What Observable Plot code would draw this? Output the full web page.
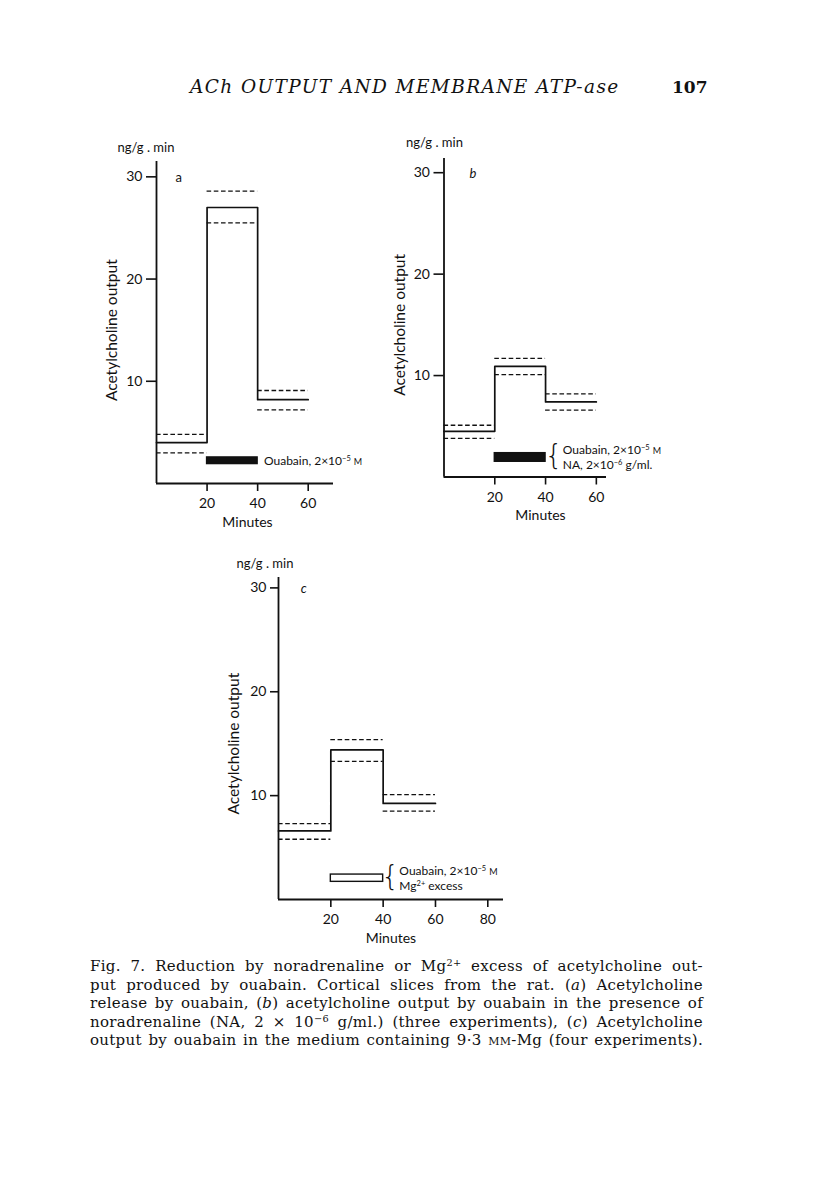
<!DOCTYPE html>
<html><head><meta charset="utf-8">
<script src="https://cdn.jsdelivr.net/npm/d3@7"></script>
<script src="https://cdn.jsdelivr.net/npm/@observablehq/plot@0.6"></script>
<style>
body{margin:0;background:#fff;}
#page{position:relative;width:816px;height:1190px;overflow:hidden;background:#fff;color:#111;}
.hdr{position:absolute;top:77px;font-family:"DejaVu Serif","Liberation Serif",serif;line-height:20px;white-space:nowrap;}
#title{left:190px;font-style:italic;font-size:18.5px;letter-spacing:1.4px;}
#pageno{left:672px;font-weight:bold;font-size:17px;}
.panel{position:absolute;}
#caption{position:absolute;left:90px;top:957px;width:613px;font-family:"DejaVu Serif","Liberation Serif",serif;font-size:15px;letter-spacing:0.3px;line-height:18.5px;}
#caption div{text-align:justify;text-align-last:justify;white-space:nowrap;}
sup{font-size:0.65em;line-height:0;vertical-align:0.5em;}
.sc{font-variant:small-caps;}
</style></head>
<body>
<div id="page">
  <div class="hdr" id="title">ACh OUTPUT AND MEMBRANE ATP-ase</div>
  <div class="hdr" id="pageno">107</div>
  <div class="panel" id="pa"></div>
  <div class="panel" id="pb"></div>
  <div class="panel" id="pc"></div>
  <div id="caption">
    <div>Fig. 7. Reduction by noradrenaline or Mg<sup>2+</sup> excess of acetylcholine out-</div>
    <div>put produced by ouabain. Cortical slices from the rat. (<i>a</i>) Acetylcholine</div>
    <div>release by ouabain, (<i>b</i>) acetylcholine output by ouabain in the presence of</div>
    <div>noradrenaline (NA, 2 × 10<sup>−6</sup> g/ml.) (three experiments), (<i>c</i>) Acetylcholine</div>
    <div>output by ouabain in the medium containing 9·3 <span class="sc">mm</span>-Mg (four experiments).</div>
  </div>
</div>
<script>
// ---- data ----
const periodStart = [0, 20, 40];
const periodEnd = [20, 40, 60];
const meanA = [4.0, 27.0, 8.2];
const upperA = [4.8, 28.6, 9.1];
const lowerA = [3.0, 25.5, 7.2];
const meanB = [4.5, 10.9, 7.4];
const upperB = [5.1, 11.7, 8.2];
const lowerB = [3.8, 10.1, 6.6];
const meanC = [6.6, 14.4, 9.25];
const upperC = [7.3, 15.4, 10.1];
const lowerC = [5.8, 13.3, 8.5];
const yTicks = [10, 20, 30];
const xTicksAB = [20, 40, 60];
const xTicksC = [20, 40, 60, 80];
const drugPeriod = [20, 40];
const barA = [1.9, 2.55];
const barB = [1.5, 2.35];
const barC = [1.7, 2.4];
const legendA = ["Ouabain, 2×10⁻⁵ M"];
const legendB = ["Ouabain, 2×10⁻⁵ M", "NA, 2×10⁻⁶ g/ml."];
const legendC = ["Ouabain, 2×10⁻⁵ M", "Mg²⁺ excess"];
const panelLabels = ["a", "b", "c"];
const yUnit = "ng/g . min";
const yTitle = "Acetylcholine output";
const xTitle = "Minutes";

const FONT = "Lato, 'Open Sans', sans-serif";
const INK = "#111";

function panel(cfg) {
  const segs = periodStart.map((s, i) => ({s, e: periodEnd[i], mean: cfg.mean[i], upper: cfg.upper[i], lower: cfg.lower[i]}));
  const last = segs[segs.length - 1];
  const steps = segs.map(d => ({x: d.s, y: d.mean})).concat([{x: last.e, y: last.mean}]);
  const bar = [{x1: drugPeriod[0], x2: drugPeriod[1], y1: cfg.bar[0], y2: cfg.bar[1]}];
  const barMid = (cfg.bar[0] + cfg.bar[1]) / 2;
  const marks = [
    Plot.ruleY(segs, {x1: "s", x2: "e", y: "upper", strokeDasharray: "4.6,2.6", strokeWidth: 1.3, stroke: INK}),
    Plot.ruleY(segs, {x1: "s", x2: "e", y: "lower", strokeDasharray: "4.6,2.6", strokeWidth: 1.3, stroke: INK}),
    Plot.line(steps, {x: "x", y: "y", curve: "step-after", strokeWidth: 1.7, stroke: INK}),
    Plot.rect(bar, {x1: "x1", x2: "x2", y1: "y1", y2: "y2", fill: cfg.barFill, stroke: INK, strokeWidth: 1.4}),
    Plot.ruleX([0], {y1: 0, y2: cfg.yTop, strokeWidth: 1.8, stroke: INK}),
    Plot.ruleY([0], {x1: 0, x2: cfg.xMax, strokeWidth: 1.8, stroke: INK}),
    Plot.axisY({ticks: yTicks, tickSize: cfg.yTickSize, tickPadding: 4, fontSize: 14, label: null, tickFormat: d => String(d), strokeWidth: 1.6, stroke: INK, fill: INK}),
    Plot.axisX({ticks: cfg.xTicks, tickSize: 8, tickPadding: 7, fontSize: 14, label: null, tickFormat: d => String(d), strokeWidth: 1.6, stroke: INK, fill: INK}),
    Plot.text([yUnit], {x: 0, y: cfg.yTop, dx: cfg.unitDx, dy: cfg.unitDy, text: d => d, textAnchor: "start", fontSize: 13, fill: INK}),
    Plot.text([yTitle], {x: 0, y: 15, dx: cfg.titleDx, rotate: -90, text: d => d, fontSize: 15.5, fill: INK}),
    Plot.text([xTitle], {x: cfg.xTitleX, y: 0, dy: 39, text: d => d, fontSize: 14, fill: INK}),
    Plot.text([cfg.label], {x: cfg.labelX, y: 30, dy: 1, text: d => d, textAnchor: "start", fontSize: 13, fontStyle: cfg.labelItalic ? "italic" : "normal", fill: INK})
  ];
  if (cfg.legend.length === 1) {
    marks.push(Plot.text(cfg.legend, {x: cfg.legendX, y: barMid, text: d => d, textAnchor: "start", fontSize: 12, fill: INK}));
  } else {
    marks.push(Plot.text(["{"], {x: cfg.braceX, y: barMid, text: d => d, fontSize: 28, fontFamily: "DejaVu Sans", fontWeight: 200, fill: INK, dy: -1}));
    marks.push(Plot.text([cfg.legend[0]], {x: cfg.legendX, y: barMid, dy: -7.5, text: d => d, textAnchor: "start", fontSize: 12, fill: INK}));
    marks.push(Plot.text([cfg.legend[1]], {x: cfg.legendX, y: barMid, dy: 7.5, text: d => d, textAnchor: "start", fontSize: 12, fill: INK}));
  }
  const svg = Plot.plot({
    width: cfg.width, height: cfg.height,
    marginLeft: cfg.mL, marginRight: cfg.mR, marginTop: cfg.mT, marginBottom: cfg.mB,
    style: {fontFamily: FONT, background: "transparent", overflow: "visible"},
    x: {domain: [0, cfg.xMax]},
    y: {domain: [0, cfg.yTop]},
    marks
  });
  richText(svg);
  return svg;
}

// turn unicode superscripts into raised tspans, and the unit "M" into a small capital
const supMap = {"⁰":"0","¹":"1","²":"2","³":"3","⁴":"4","⁵":"5","⁶":"6","⁷":"7","⁸":"8","⁹":"9","⁻":"−","⁺":"+"};
const SUP_SHIFT = 4;
function richText(svg) {
  d3.select(svg).selectAll("text").each(function() {
    const el = d3.select(this);
    if (!el.selectAll("tspan").empty()) return;
    const t = el.text();
    if (!/[⁰¹²³⁴⁵⁶⁷⁸⁹⁻⁺]/.test(t)) return;
    const parts = t.match(/[⁰¹²³⁴⁵⁶⁷⁸⁹⁻⁺]+|[^⁰¹²³⁴⁵⁶⁷⁸⁹⁻⁺]+/g);
    el.text(null);
    let pending = 0;
    const add = (txt, size) => {
      const ts = el.append("tspan").text(txt);
      if (size) ts.attr("font-size", size);
      if (pending) { ts.attr("dy", pending); pending = 0; }
      return ts;
    };
    parts.forEach(p => {
      if (supMap[p[0]] !== undefined) {
        const ts = el.append("tspan").attr("font-size", 7.5).attr("dy", -SUP_SHIFT - pending).text([...p].map(c => supMap[c]).join(""));
        pending = SUP_SHIFT;
      } else if (/ M$/.test(p)) {
        add(p.slice(0, -1));
        add("M", 9);
      } else {
        add(p);
      }
    });
  });
}

const pa = panel({width: 300, height: 410, mL: 76, mR: 47, mT: 36, mB: 52,
  xMax: 70, yTop: 31.5, mean: meanA, upper: upperA, lower: lowerA, bar: barA, barFill: INK, yTickSize: 10,
  xTicks: xTicksAB, unitDx: -39, unitDy: -14, titleDx: -44, xTitleX: 36, label: panelLabels[0], labelX: 7.5, labelItalic: false,
  legend: legendA, legendX: 42.5});
const pb = panel({width: 300, height: 406.5, mL: 73.5, mR: 64, mT: 36, mB: 52,
  xMax: 64, yTop: 31.4, mean: meanB, upper: upperB, lower: lowerB, bar: barB, barFill: INK, yTickSize: 10,
  xTicks: xTicksAB, unitDx: -38, unitDy: -16, titleDx: -43.5, xTitleX: 38, label: panelLabels[1], labelX: 10, labelItalic: true,
  legend: legendB, braceX: 43.2, legendX: 46.8});
const pc = panel({width: 330, height: 410, mL: 78, mR: 27, mT: 36, mB: 52,
  xMax: 86, yTop: 31, mean: meanC, upper: upperC, lower: lowerC, bar: barC, barFill: "#fff", yTickSize: 8,
  xTicks: xTicksC, unitDx: -42, unitDy: -14, titleDx: -44, xTitleX: 43, label: panelLabels[2], labelX: 8.5, labelItalic: true,
  legend: legendC, braceX: 42.7, legendX: 46.2});

function place(id, svg, left, top) {
  const el = document.getElementById(id);
  el.style.left = left + "px"; el.style.top = top + "px";
  el.appendChild(svg);
}
place("pa", pa, 80, 125);
place("pb", pb, 370, 122);
place("pc", pc, 200, 541);
</script>
</body></html>
